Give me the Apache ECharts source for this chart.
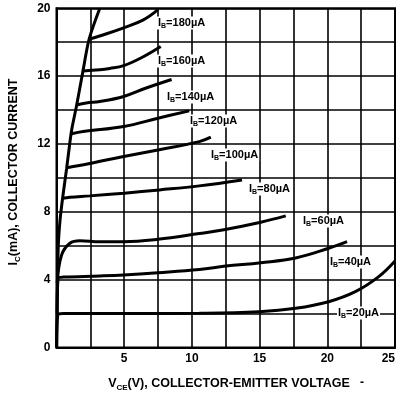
<!DOCTYPE html>
<html>
<head>
<meta charset="utf-8">
<script src="https://cdn.jsdelivr.net/npm/echarts@6/dist/echarts.min.js"></script>
<style>html,body{margin:0;padding:0;background:#fff;}#c{width:398px;height:398px;}</style>
</head>
<body>
<div id="c"></div>
<script>
// Data (VCE in V, IC in mA)
const xTicks = [0, 5, 10, 15, 20, 25];
const yTicks = [0, 4, 8, 12, 16, 20];
const curveNames = ['180', '160', '140', '120', '100', '80', '60', '40', '20'];
const saturation = [[0,0],[0.06,3],[0.13,5.95],[0.26,7.5],[0.45,8.8],[0.75,10.57],[0.99,12.1],[1.12,12.83],[1.49,14.3],[1.97,16.37],[2.41,18.18],[3.2,20]];
const ib180 = [[2.41,18.18],[3.7,18.5],[4.96,18.85],[6.38,19.3],[7.5,19.92]];
const ib160 = [[1.97,16.3],[3.2,16.37],[3.93,16.45],[4.96,16.62],[6.3,17.1],[7.7,17.75]];
const ib140 = [[1.49,14.3],[2.2,14.42],[3.2,14.5],[4.96,14.8],[6.63,15.3],[8.5,15.8]];
const ib120 = [[1.12,12.6],[1.97,12.73],[4.96,13.03],[7.49,13.52],[9.8,13.95]];
const ib100 = [[0.75,10.6],[2.46,10.85],[4.96,11.26],[7.49,11.65],[10.55,12.14],[11.4,12.4]];
const ib80 = [[0.45,8.8],[0.99,8.86],[2.46,8.94],[5,9.1],[7.6,9.29],[10.55,9.53],[13.7,9.88]];
const ib60 = [[0.05,3.8],[0.38,5.46],[0.99,6.15],[1.73,6.3],[3.2,6.24],[4.96,6.24],[7.49,6.38],[10.55,6.72],[12.26,6.93],[15.09,7.39],[16.93,7.76]];
const ib40 = [[0.05,2.0],[0.13,4.1],[0.5,4.15],[3.2,4.22],[4.96,4.28],[7.49,4.41],[10.55,4.6],[12.5,4.8],[15.09,5.0],[17.66,5.28],[20.1,5.85],[21.46,6.24]];
const ib20 = [[0.02,0],[0.1,1.95],[0.5,2.0],[5,2.0],[10.55,2.02],[14.96,2.11],[17.66,2.31],[20.1,2.7],[22.07,3.29],[23.8,4.18],[25,5.1]];
const curves = [ib180, ib160, ib140, ib120, ib100, ib80, ib60, ib40, ib20];
// label anchor positions (pixels)
const labelPos = [[157,23],[157,61],[166,97],[189,121],[210,155],[248,189],[302,221],[329,262],[337,313]];

const chart = echarts.init(document.getElementById('c'), null, {renderer:'canvas'});
const fam = '"Liberation Sans", Arial, sans-serif';
const lineStyle = {color:'#000', width:3};
const series = [{type:'line', data: saturation, showSymbol:false, smooth:0.3, lineStyle}];
curves.forEach(c => series.push({type:'line', data:c, showSymbol:false, smooth:0.4, lineStyle}));

const graphics = [];
curveNames.forEach((n, i) => {
  graphics.push({type:'text', x: labelPos[i][0], y: labelPos[i][1], silent:true, z:100,
    style:{text:'{m|I}{s|B}{m|=' + n + 'µA}', align:'left', verticalAlign:'middle', fill:'#000',
      backgroundColor:'#fff', padding:[0,1,0,1],
      rich:{m:{fontSize:11, fontWeight:'bold', fontFamily:fam, lineHeight:13, fill:'#000'}, s:{fontSize:7, fontWeight:'bold', fontFamily:fam, lineHeight:7, verticalAlign:'bottom', fill:'#000'}}}});
});
graphics.push({type:'text', x:229, y:384, silent:true,
  style:{text:'{m|V}{s|CE}{m|(V), COLLECTOR-EMITTER VOLTAGE}', align:'center', verticalAlign:'middle',
    rich:{m:{fontSize:12.5, fontWeight:'bold', fontFamily:fam, lineHeight:16, fill:'#000'}, s:{fontSize:8, fontWeight:'bold', fontFamily:fam, lineHeight:9, verticalAlign:'bottom', fill:'#000'}}}});
graphics.push({type:'text', x:362, y:383, silent:true,
  style:{text:'-', align:'center', verticalAlign:'middle', fontSize:12, fontWeight:'bold', fontFamily:fam, fill:'#000'}});
graphics.push({type:'text', x:14, y:172, rotation:Math.PI/2, silent:true,
  style:{text:'{m|I}{s|C}{m|(mA), COLLECTOR CURRENT}', align:'center', verticalAlign:'middle',
    rich:{m:{fontSize:12.5, fontWeight:'bold', fontFamily:fam, lineHeight:16, fill:'#000'}, s:{fontSize:8, fontWeight:'bold', fontFamily:fam, lineHeight:9, verticalAlign:'bottom', fill:'#000'}}}});

chart.setOption({
  animation:false,
  backgroundColor:'#fff',
  grid:{left:56.5, right:1.5, top:8.3, bottom:50.5, show:true, borderColor:'#000', borderWidth:2},
  xAxis:{type:'value', min:0, max:25, interval:2.5,
    axisLine:{lineStyle:{color:'#000', width:2}}, axisTick:{show:false},
    splitLine:{lineStyle:{color:'#000', width:1.6}},
    axisLabel:{color:'#000', fontWeight:'bold', fontSize:12, fontFamily:fam, margin:5, alignMaxLabel:'right',
      formatter: v => (xTicks.indexOf(v) > 0 ? String(v) : '')}},
  yAxis:{type:'value', min:0, max:20, interval:2,
    axisLine:{lineStyle:{color:'#000', width:2}}, axisTick:{show:false},
    splitLine:{lineStyle:{color:'#000', width:1.6}},
    axisLabel:{color:'#000', fontWeight:'bold', fontSize:12, fontFamily:fam, margin:6,
      formatter: v => (yTicks.indexOf(v) >= 0 ? String(v) : '')}},
  series,
  graphic: graphics
});
</script>
</body>
</html>
